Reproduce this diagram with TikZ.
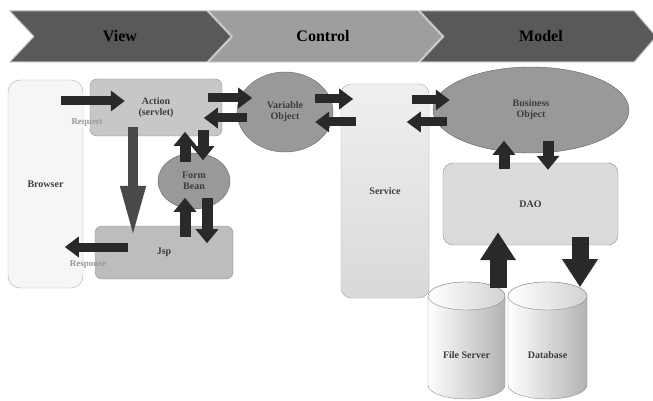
\documentclass[tikz,border=0pt]{standalone}
\usepackage{fontspec}
\setmainfont{Liberation Serif}
\usetikzlibrary{arrows.meta,shapes.geometric}
\definecolor{HeadDarkClr}{rgb}{0.35,0.35,0.35}
\definecolor{HeadLightClr}{rgb}{0.62,0.62,0.62}
\definecolor{BoxClr}{rgb}{0.78,0.78,0.78}
\definecolor{PaleClr}{rgb}{0.965,0.965,0.965}
\definecolor{DaoClr}{rgb}{0.86,0.86,0.86}
\definecolor{OvalClr}{rgb}{0.6,0.6,0.6}
\definecolor{EdgeClr}{rgb}{0.55,0.55,0.55}
\definecolor{ArrowClr}{rgb}{0.16,0.16,0.16}
\definecolor{TextClr}{rgb}{0.24,0.24,0.24}

\begin{document}
\begin{tikzpicture}[x=1pt,y=-1pt,
  lbl/.style={font=\fontsize{10}{11}\selectfont\bfseries,text=TextClr,align=center},
  head/.style={font=\fontsize{16}{18}\selectfont\bfseries},
  chev/.style={draw=EdgeClr!60,line width=1pt},
  box/.style={lbl,draw=EdgeClr,fill=BoxClr,rounded corners=7pt,inner sep=0pt},
  oval/.style={lbl,ellipse,draw=EdgeClr!70!black,fill=OvalClr,inner sep=0pt},
  side/.style={lbl,text=EdgeClr!90,font=\fontsize{9}{10}\selectfont\bfseries},
  arr/.style={draw=ArrowClr,line width=9pt,-{Triangle[length=14pt,width=20pt]}},
  varr/.style={draw=ArrowClr,line width=11pt,-{Triangle[length=14pt,width=22pt]}},
  tall/.style={draw=ArrowClr!85,line width=10pt,-{Triangle[length=52pt,width=23pt]}},
  fat/.style={draw=ArrowClr,line width=17pt,-{Triangle[length=28pt,width=34pt]}}]
\useasboundingbox (0,0) rectangle (653,401);

% header
\fill[HeadDarkClr,chev] (10,11) -- (207,11) -- (231,36.5) -- (207,62) -- (10,62) -- (34,36.5) -- cycle;
\fill[HeadLightClr,chev] (209,11) -- (418,11) -- (442,36.5) -- (418,62) -- (209,62) -- (233,36.5) -- cycle;
\fill[HeadDarkClr,chev] (420,11) -- (634,11) -- (656,36.5) -- (634,62) -- (420,62) -- (444,36.5) -- cycle;
\node[head] (hview) at (120,36.5) {View};
\node[head] (hctrl) at (323,36.5) {Control};
\node[head] (hmodel) at (541,36.5) {Model};

\node[box,fill=PaleClr,draw=EdgeClr!70,rounded corners=12pt,minimum width=75pt,minimum height=208pt] (brw) at (45.5,184) {Browser};
\node[box,minimum width=132pt,minimum height=57pt] (act) at (156,107.5) {Action\\(servlet)};
\node[box,fill=BoxClr!95!black,minimum width=138pt,minimum height=53pt] (jsp) at (164,252.5) {Jsp};
\node[oval,minimum width=72pt,minimum height=56pt] (fb) at (194,181) {Form\\Bean};
\node[oval,minimum width=96pt,minimum height=80pt] (vo) at (285,112) {Variable\\Object};
\node[box,draw=EdgeClr!70,rounded corners=10pt,top color=gray!12,bottom color=gray!30,minimum width=88pt,minimum height=214pt] (srv) at (385,191) {Service};
\node[oval,minimum width=196pt,minimum height=86pt] (bo) at (531,110) {Business\\Object};
\node[box,fill=DaoClr,rounded corners=10pt,minimum width=175pt,minimum height=82pt] (dao) at (530.5,204) {DAO};

\node[side] (req) at (87,123) {Request};
\node[side] (resp) at (88,265) {Response};

% storage
\shade[left color=white,right color=gray!60,draw=EdgeClr] (428,296) -- (428,385) arc[start angle=180,end angle=0,x radius=38.5,y radius=14] -- (505,296) arc[start angle=0,end angle=-180,x radius=38.5,y radius=14] -- cycle;
\shade[left color=white,right color=gray!35,draw=EdgeClr] (466.5,296) ellipse[x radius=38.5,y radius=14];
\shade[left color=white,right color=gray!60,draw=EdgeClr] (508,296) -- (508,385) arc[start angle=180,end angle=0,x radius=39.5,y radius=14] -- (587,296) arc[start angle=0,end angle=-180,x radius=39.5,y radius=14] -- cycle;
\shade[left color=white,right color=gray!35,draw=EdgeClr] (547.5,296) ellipse[x radius=39.5,y radius=14];
\node[lbl] (fsrv) at (466.5,355) {File Server};
\node[lbl] (dbase) at (547.5,355) {Database};

% arrows
\draw[arr] ([xshift=-29pt,yshift=6.5pt]act.west) -- ++(64,0);
\draw[tall] ([xshift=-23pt,yshift=9pt]act.south) -- ([xshift=-31pt,yshift=-12pt]jsp.north);
\draw[arr] ([xshift=33pt,yshift=5.5pt]jsp.west) -- ++(-63,0);
\draw[varr] ([xshift=47pt,yshift=6pt]act.south) -- ++(0,30);
\draw[varr] ([xshift=-9pt,yshift=-9pt]fb.north) -- ++(0,-30);
\draw[varr] ([xshift=13pt,yshift=11pt]fb.south) -- ++(0,45);
\draw[varr] ([xshift=21pt,yshift=-11pt]jsp.north) -- ++(0,-39);
\draw[arr] ([xshift=-14pt,yshift=9.5pt]act.east) -- ++(44,0);
\draw[arr] ([xshift=10pt,yshift=-6pt]vo.west) -- ++(-43,0);
\draw[arr] ([xshift=-18pt,yshift=13pt]vo.east) -- ++(38,0);
\draw[arr] ([xshift=23pt,yshift=-10pt]vo.east) -- ++(-41,0);
\draw[arr] ([xshift=-21pt,yshift=10pt]bo.west) -- ++(38,0);
\draw[arr] ([xshift=14pt,yshift=-12pt]bo.west) -- ++(-40,0);
\draw[varr] ([xshift=-26.5pt,yshift=-6pt]dao.north) -- ++(0,-28);
\draw[varr] ([xshift=17.5pt,yshift=22pt]dao.north) -- ++(0,29);
\draw[fat] ([xshift=-32.5pt,yshift=-43pt]dao.south) -- ++(0,-56);
\draw[fat] ([xshift=49.5pt,yshift=8pt]dao.south) -- ++(0,50);

\end{tikzpicture}
\end{document}
